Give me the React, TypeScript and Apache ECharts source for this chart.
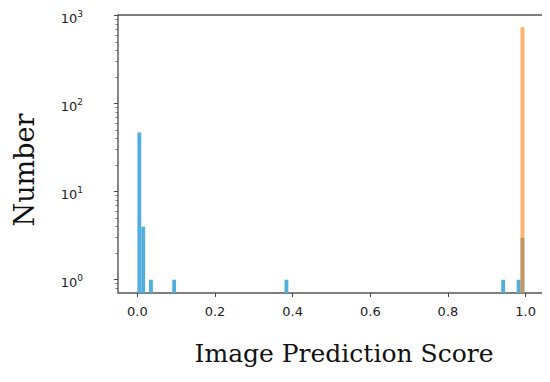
import React, { useEffect, useRef } from "react";
import * as echarts from "echarts";

// Histogram data (bin starts in score units, counts per bin)
const binWidth = 0.00997;
const blueBinStarts = [0.0, 0.00997, 0.0299, 0.0897, 0.3789, 0.9372, 0.9771, 0.987];
const blueCounts = [47, 4, 1, 1, 1, 1, 1, 3];
const orangeBinStarts = [0.987];
const orangeCounts = [740];

const xTickValues = [0, 0.2, 0.4, 0.6, 0.8, 1.0];
const yMajorExponents = [0, 1, 2, 3];
const yMinorMultipliers = [2, 3, 4, 5, 6, 7, 8, 9];

const X_MIN = -0.05;
const X_MAX = 1.05;
const Y_MIN = -0.151; // log10 space
const Y_MAX = 3.008;

const BLUE = "#52afdc";
const ORANGE = "rgba(255,138,36,0.68)";

function buildHist(starts: number[], counts: number[]) {
  return starts.map((s, i) => [s, s + binWidth, Math.log10(counts[i])]);
}

function minorTicks(): number[] {
  const out: number[] = [];
  for (let e = -1; e <= 3; e++) {
    for (const m of yMinorMultipliers) {
      const v = Math.log10(m * Math.pow(10, e));
      if (v > Y_MIN && v < Y_MAX) out.push(v);
    }
  }
  return out;
}

function makeRender(color: string) {
  return (params: any, api: any) => {
    const x0 = api.value(0);
    const x1 = api.value(1);
    const v = api.value(2);
    const p0 = api.coord([x0, v]);
    const p1 = api.coord([x1, Y_MIN]);
    return {
      type: "rect",
      shape: { x: p0[0], y: p0[1], width: p1[0] - p0[0], height: p1[1] - p0[1] },
      style: { fill: color },
    };
  };
}

export default function App() {
  const ref = useRef<HTMLDivElement>(null);
  useEffect(() => {
    if (!ref.current) return;
    const chart = echarts.init(ref.current, undefined, { renderer: "svg" });
    const tickFont = "DejaVu Sans";
    chart.setOption({
      animation: false,
      backgroundColor: "#fff",
      grid: {
        left: 118,
        right: 5,
        top: 15,
        bottom: 89,
        show: true,
        borderColor: "#555",
        borderWidth: 1.4,
        backgroundColor: "transparent",
      },
      xAxis: {
        type: "value",
        min: X_MIN,
        max: X_MAX,
        axisLine: { show: false, onZero: false },
        splitLine: { show: false },
        axisTick: {
          show: true,
          customValues: xTickValues,
          length: 4,
          inside: false,
          lineStyle: { color: "#444", width: 1 },
        },
        axisLabel: {
          customValues: xTickValues,
          formatter: (v: number) => v.toFixed(1),
          fontFamily: tickFont,
          fontSize: 13,
          color: "#222",
          margin: 12,
        },
      },
      yAxis: [
        {
          type: "value",
          min: Y_MIN,
          max: Y_MAX,
          axisLine: { show: false, onZero: false },
          splitLine: { show: false },
          axisTick: {
            show: true,
            customValues: yMajorExponents,
            length: 4,
            lineStyle: { color: "#444", width: 1 },
          },
          axisLabel: {
            customValues: yMajorExponents,
            formatter: (v: number) => `{b|10}{s|${Math.round(v)}}`,
            margin: 35,
            rich: {
              b: { fontFamily: tickFont, fontSize: 13, color: "#222", padding: [6, 0, 0, 0] },
              s: { fontFamily: tickFont, fontSize: 9, color: "#222", padding: [0, 0, 4, 0] },
            },
          },
        },
        {
          type: "value",
          min: Y_MIN,
          max: Y_MAX,
          position: "left",
          offset: 0,
          axisLine: { show: false, onZero: false },
          splitLine: { show: false },
          axisTick: {
            show: true,
            customValues: minorTicks(),
            length: 2.5,
            lineStyle: { color: "#555", width: 0.8 },
          },
          axisLabel: { show: false },
        },
      ],
      series: [
        {
          type: "custom",
          renderItem: makeRender(BLUE),
          data: buildHist(blueBinStarts, blueCounts),
          encode: { x: [0, 1], y: 2 },
          clip: true,
        },
        {
          type: "custom",
          renderItem: makeRender(ORANGE),
          data: buildHist(orangeBinStarts, orangeCounts),
          encode: { x: [0, 1], y: 2 },
          clip: true,
        },
      ],
      graphic: [
        {
          type: "text",
          x: 344,
          y: 353,
          style: {
            text: "Image Prediction Score",
            fontFamily: "DejaVu Serif",
            fontSize: 25,
            fill: "#111",
            align: "center",
            verticalAlign: "middle",
          },
        },
        {
          type: "text",
          x: 24,
          y: 170,
          rotation: Math.PI / 2,
          style: {
            text: "Number",
            fontFamily: "DejaVu Serif",
            fontSize: 27,
            fill: "#111",
            align: "center",
            verticalAlign: "middle",
          },
        },
      ],
    });
    return () => chart.dispose();
  }, []);
  return <div ref={ref} style={{ width: 550, height: 382, margin: -8 }} />;
}
